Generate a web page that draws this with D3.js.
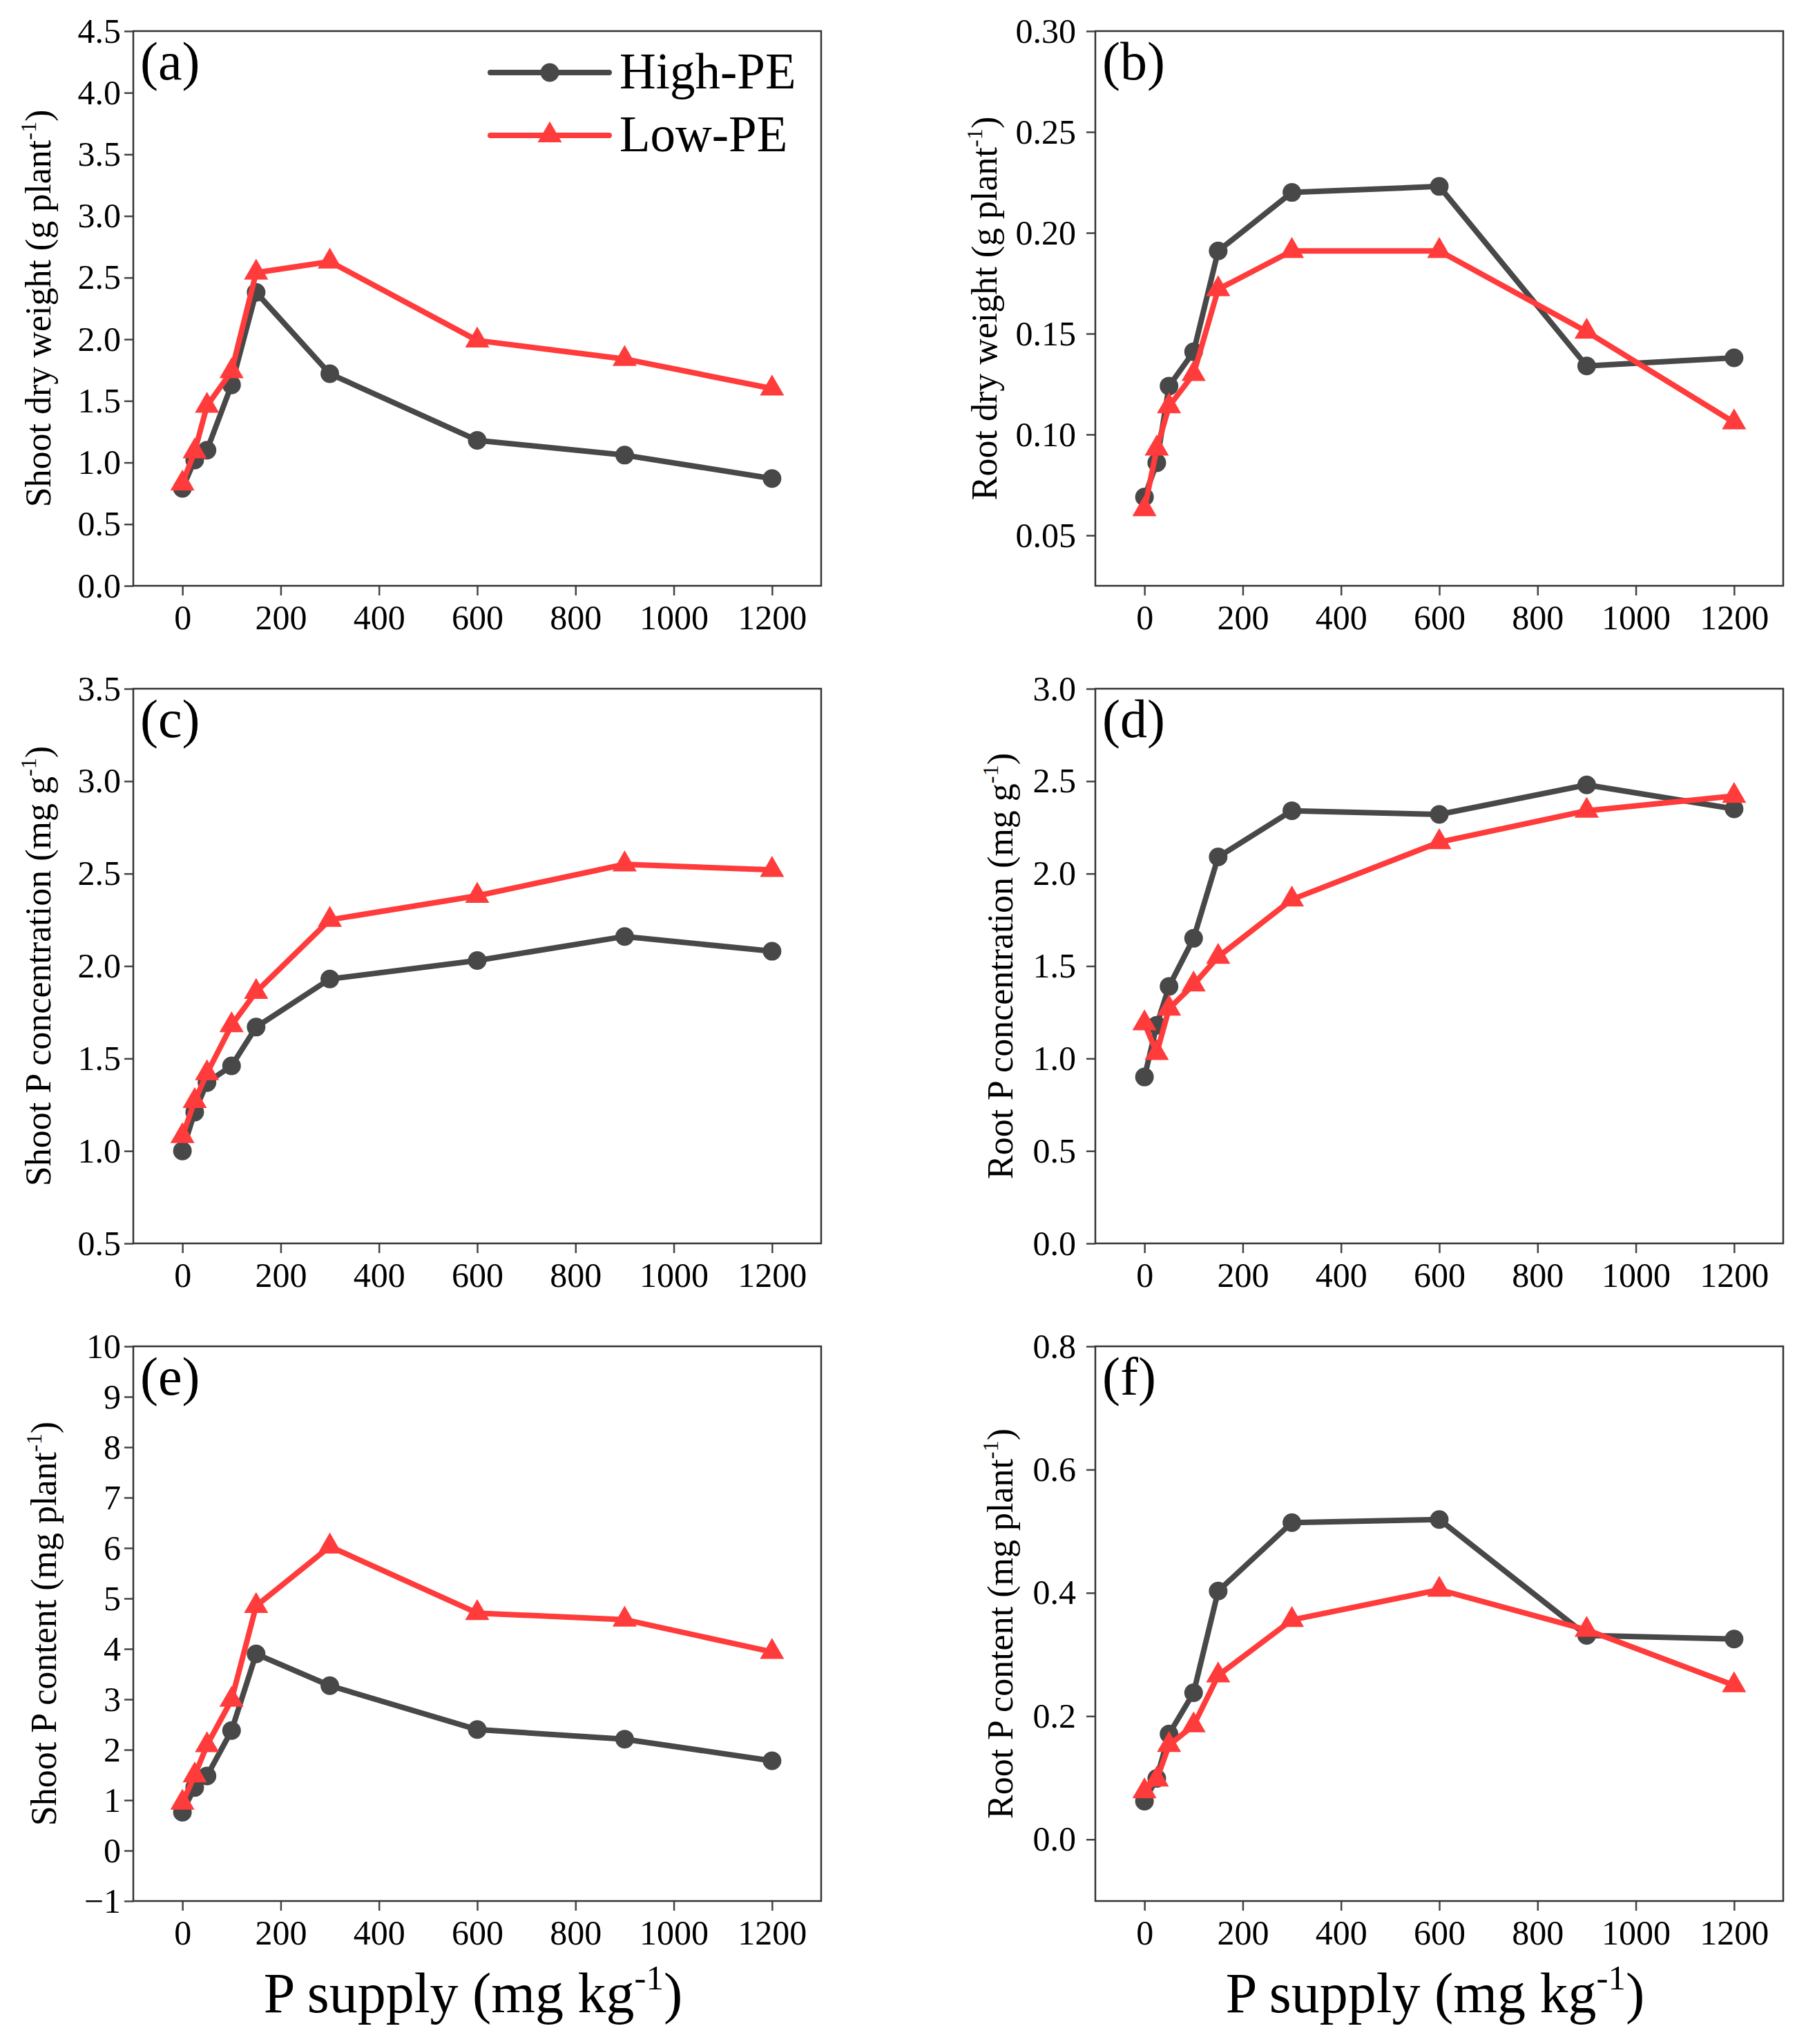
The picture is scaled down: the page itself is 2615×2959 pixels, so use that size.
<!DOCTYPE html>
<html>
<head>
<meta charset="utf-8">
<script src="https://cdn.jsdelivr.net/npm/d3@7/dist/d3.min.js"></script>
<style>
  html, body { margin: 0; padding: 0; background: #fff; }
  svg { display: block; }
  text { font-family: "Liberation Serif", "Times New Roman", serif; fill: #000; }
</style>
</head>
<body>
<div id="chart"></div>
<script>
// P supply levels (mg kg-1)
const pSupply = [0, 25, 50, 100, 150, 300, 600, 900, 1200];
const xTicks = [0, 200, 400, 600, 800, 1000, 1200];

// (a) shoot dry weight
const shootDwHigh = [0.79, 1.02, 1.10, 1.63, 2.38, 1.72, 1.18, 1.06, 0.87];
const shootDwLow  = [0.83, 1.09, 1.46, 1.74, 2.54, 2.63, 1.99, 1.84, 1.60];
const yTicksA = [0, 0.5, 1.0, 1.5, 2.0, 2.5, 3.0, 3.5, 4.0, 4.5];

// (b) root dry weight
const rootDwHigh = [0.069, 0.086, 0.124, 0.141, 0.191, 0.220, 0.223, 0.134, 0.138];
const rootDwLow  = [0.063, 0.093, 0.114, 0.130, 0.172, 0.191, 0.191, 0.151, 0.106];
const yTicksB = [0.05, 0.10, 0.15, 0.20, 0.25, 0.30];

// (c) shoot P concentration
const shootPcHigh = [1.00, 1.21, 1.37, 1.46, 1.67, 1.93, 2.03, 2.16, 2.08];
const shootPcLow  = [1.08, 1.27, 1.42, 1.68, 1.86, 2.25, 2.38, 2.55, 2.52];
const yTicksC = [0.5, 1.0, 1.5, 2.0, 2.5, 3.0, 3.5];

// (d) root P concentration
const rootPcHigh = [0.90, 1.18, 1.39, 1.65, 2.09, 2.34, 2.32, 2.48, 2.35];
const rootPcLow  = [1.19, 1.03, 1.27, 1.40, 1.55, 1.86, 2.17, 2.34, 2.42];
const yTicksD = [0, 0.5, 1.0, 1.5, 2.0, 2.5, 3.0];

// (e) shoot P content
const shootPctHigh = [0.76, 1.25, 1.48, 2.38, 3.90, 3.27, 2.40, 2.21, 1.78];
const shootPctLow  = [0.95, 1.49, 2.09, 2.99, 4.85, 6.03, 4.71, 4.58, 3.94];
const yTicksE = [-1, 0, 1, 2, 3, 4, 5, 6, 7, 8, 9, 10];

// (f) root P content
const rootPctHigh = [0.062, 0.099, 0.171, 0.238, 0.403, 0.514, 0.519, 0.331, 0.325];
const rootPctLow  = [0.078, 0.097, 0.153, 0.185, 0.266, 0.356, 0.405, 0.340, 0.250];
const yTicksF = [0, 0.2, 0.4, 0.6, 0.8];

const seriesNames = ["High-PE", "Low-PE"];
const seriesColors = ["#484848", "#ff3b3b"];

const W = 2615, H = 2959;
const colLeft = [193, 1586];
const colTickPad = [5, 15];
const rowTop = [45, 997, 1949];
const pw = 996, ph = 803;

const panels = [
  { tag: "(a)", col: 0, row: 0, dom: [0, 4.5], ticks: yTicksA, fmt: ".1f", high: shootDwHigh, low: shootDwLow,
    title: ["Shoot dry weight (g plant", "-1", ")"], titleOff: 120, legend: true },
  { tag: "(b)", col: 1, row: 0, dom: [0.025, 0.30], ticks: yTicksB, fmt: ".2f", high: rootDwHigh, low: rootDwLow,
    title: ["Root dry weight (g plant", "-1", ")"], titleOff: 143 },
  { tag: "(c)", col: 0, row: 1, dom: [0.5, 3.5], ticks: yTicksC, fmt: ".1f", high: shootPcHigh, low: shootPcLow,
    title: ["Shoot P concentration (mg g", "-1", ")"], titleOff: 120 },
  { tag: "(d)", col: 1, row: 1, dom: [0, 3.0], ticks: yTicksD, fmt: ".1f", high: rootPcHigh, low: rootPcLow,
    title: ["Root P concentration (mg g", "-1", ")"], titleOff: 120 },
  { tag: "(e)", col: 0, row: 2, dom: [-1, 10], ticks: yTicksE, fmt: "d", high: shootPctHigh, low: shootPctLow,
    title: ["Shoot P content (mg plant", "-1", ")"], titleOff: 112, xTitle: true },
  { tag: "(f)", col: 1, row: 2, dom: [-0.1, 0.8], ticks: yTicksF, fmt: ".1f", high: rootPctHigh, low: rootPctLow,
    title: ["Root P content (mg plant", "-1", ")"], titleOff: 120, xTitle: true }
];

const svg = d3.select("#chart").append("svg")
  .attr("width", W)
  .attr("height", H)
  .attr("viewBox", `0 0 ${W} ${H}`);

svg.append("rect").attr("width", W).attr("height", H).attr("fill", "#fff");

const triangle = d3.symbol().type(d3.symbolTriangle).size(530);

function addTitle(sel, parts, size) {
  sel.append("tspan").text(parts[0]);
  sel.append("tspan").attr("font-size", size * 0.62).attr("dy", -size * 0.4).text(parts[1]);
  sel.append("tspan").attr("dy", size * 0.4).text(parts[2]);
}

panels.forEach(p => {
  const left = colLeft[p.col], top = rowTop[p.row];
  const g = svg.append("g").attr("transform", `translate(${left},${top})`);

  const x = d3.scaleLinear().domain([-100, 1300]).range([0, pw]);
  const y = d3.scaleLinear().domain(p.dom).range([ph, 0]);

  // axes
  const xAxis = g.append("g")
    .attr("transform", `translate(0,${ph})`)
    .call(d3.axisBottom(x).tickValues(xTicks).tickFormat(d3.format("d")).tickSize(14).tickSizeOuter(0).tickPadding(13));
  const yAxis = g.append("g")
    .call(d3.axisLeft(y).tickValues(p.ticks).tickFormat(d3.format(p.fmt)).tickSize(13).tickSizeOuter(0).tickPadding(colTickPad[p.col]));

  [xAxis, yAxis].forEach(a => {
    a.select(".domain").remove();
    a.selectAll(".tick line").attr("stroke", "#444").attr("stroke-width", 2.5);
    a.selectAll(".tick text")
      .attr("font-size", 50)
      .attr("fill", "#000");
  });

  // frame
  g.append("rect")
    .attr("width", pw).attr("height", ph)
    .attr("fill", "none").attr("stroke", "#333").attr("stroke-width", 2.5);

  // series
  const line = d3.line().x((d, i) => x(pSupply[i])).y(d => y(d));
  [p.high, p.low].forEach((vals, si) => {
    g.append("path")
      .datum(vals)
      .attr("d", line)
      .attr("fill", "none")
      .attr("stroke", seriesColors[si])
      .attr("stroke-width", 8)
      .attr("stroke-linejoin", "round")
      .attr("stroke-linecap", "round");
    if (si === 0) {
      g.selectAll(".pt-high").data(vals).enter().append("circle")
        .attr("class", "pt-high")
        .attr("cx", (d, i) => x(pSupply[i]))
        .attr("cy", d => y(d))
        .attr("r", 13.5)
        .attr("fill", seriesColors[0]);
    } else {
      g.selectAll(".pt-low").data(vals).enter().append("path")
        .attr("class", "pt-low")
        .attr("d", triangle)
        .attr("transform", (d, i) => `translate(${x(pSupply[i])},${y(d)})`)
        .attr("fill", seriesColors[1]);
    }
  });

  // panel tag
  g.append("text")
    .attr("x", 10).attr("y", 70)
    .attr("font-size", 78)
    .text(p.tag);

  // y title
  const yt = g.append("text")
    .attr("transform", `translate(${-p.titleOff},${ph / 2}) rotate(-90)`)
    .attr("text-anchor", "middle")
    .attr("font-size", 52);
  addTitle(yt, p.title, 52);

  // x title
  if (p.xTitle) {
    const xt = g.append("text")
      .attr("x", pw / 2 - 6)
      .attr("y", 2913 - top)
      .attr("text-anchor", "middle")
      .attr("font-size", 82);
    addTitle(xt, ["P supply (mg kg", "-1", ")"], 82);
  }

  // legend
  if (p.legend) {
    const lg = g.append("g").attr("transform", `translate(${710 - left},0)`);
    seriesNames.forEach((name, si) => {
      const ly = [105, 196][si] - top;
      lg.append("line")
        .attr("x1", 0).attr("x2", 172)
        .attr("y1", ly).attr("y2", ly)
        .attr("stroke", seriesColors[si])
        .attr("stroke-width", 8)
        .attr("stroke-linecap", "round");
      if (si === 0) {
        lg.append("circle").attr("cx", 86).attr("cy", ly).attr("r", 13.5).attr("fill", seriesColors[0]);
      } else {
        lg.append("path").attr("d", triangle).attr("transform", `translate(86,${ly})`).attr("fill", seriesColors[1]);
      }
      lg.append("text")
        .attr("x", 187)
        .attr("y", ly + 23)
        .attr("font-size", 73)
        .text(name);
    });
  }
});
</script>
</body>
</html>
